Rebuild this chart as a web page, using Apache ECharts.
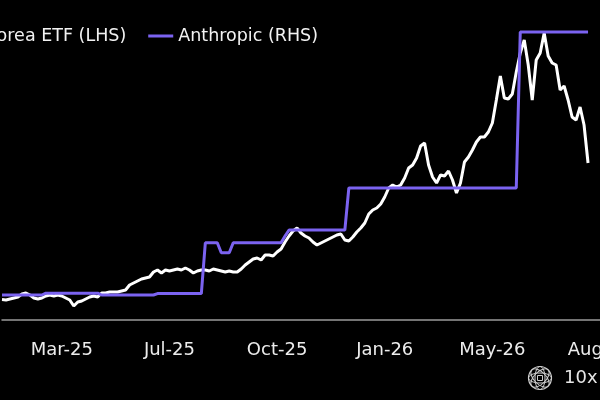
<!DOCTYPE html>
<html>
<head>
<meta charset="utf-8">
<script src="https://cdn.jsdelivr.net/npm/echarts@6/dist/echarts.min.js"></script>
<style>
html, body { margin: 0; padding: 0; background: #000; }
#chart { width: 600px; height: 400px; }
</style>
</head>
<body>
<div id="chart"></div>
<script>
// tick labels sit on fixed category positions
const tickLabels = ['Mar-25', 'Jul-25', 'Oct-25', 'Jan-26', 'May-26', 'Aug-26']
const tickIndex = [15, 42, 69, 96, 123, 150]
const categoryCount = 151

// Korea ETF (LHS)
const koreaEtf = [
    55.1, 55.0, 55.25, 55.5, 55.75, 56.5, 56.75, 56.25, 55.5, 55.25,
    55.5, 56.0, 56.25, 56.0, 56.25, 56.0, 55.5, 55.0, 53.5, 54.5,
    54.75, 55.25, 55.75, 56.0, 55.75, 56.75, 56.75, 57.0, 57.0, 57.0,
    57.25, 57.5, 58.75, 59.25, 59.75, 60.25, 60.5, 60.75, 62.0, 62.5,
    61.75, 62.5, 62.25, 62.5, 62.75, 62.5, 63.0, 62.5, 61.75, 62.25,
    62.5, 62.5, 62.25, 62.75, 62.5, 62.25, 62.0, 62.25, 62.0, 62.0,
    62.75, 63.75, 64.5, 65.25, 65.5, 65.0, 66.25, 66.25, 66.0, 67.0,
    67.75, 69.5, 71.0, 72.25, 73.0, 71.75, 71.0, 70.5, 69.5, 68.75,
    69.25, 69.75, 70.25, 70.75, 71.25, 71.5, 70.0, 69.75, 70.75, 72.0,
    73.0, 74.25, 76.5, 77.5, 78.0, 79.0, 80.75, 83.0, 83.75, 83.25,
    83.75, 85.5, 88.0, 88.75, 90.5, 93.5, 94.25, 88.75, 85.75, 84.25,
    86.25, 86.0, 87.25, 85.0, 81.75, 84.25, 89.5, 90.75, 92.5, 94.5,
    95.75, 95.75, 97.0, 99.25, 105.0, 111.0, 105.5, 105.25, 106.5, 112.0,
    116.75, 120.0, 113.75, 105.0, 115.0, 116.75, 121.75, 116.0, 114.25, 113.75,
    107.5, 108.5, 105.0, 100.75, 100.0, 103.25, 98.75, 89.25
]

// Anthropic valuation, $bn (RHS)
const anthropic = [
    62.5, 62.5, 62.5, 62.5, 62.5, 62.5, 62.5, 62.5, 62.5, 62.5,
    62.5, 67, 67, 67, 67, 67, 67, 67, 67, 67,
    67, 67, 67, 67, 67, 62.5, 62.5, 62.5, 62.5, 62.5,
    62.5, 62.5, 62.5, 62.5, 62.5, 62.5, 62.5, 62.5, 62.5, 66,
    66, 66, 66, 66, 66, 66, 66, 66, 66, 66,
    66, 193, 193, 193, 193, 168, 168, 168, 193, 193,
    193, 193, 193, 193, 193, 193, 193, 193, 193, 193,
    193, 210, 225, 225, 225, 225, 225, 225, 225, 225,
    225, 225, 225, 225, 225, 225, 225, 330, 330, 330,
    330, 330, 330, 330, 330, 330, 330, 330, 330, 330,
    330, 330, 330, 330, 330, 330, 330, 330, 330, 330,
    330, 330, 330, 330, 330, 330, 330, 330, 330, 330,
    330, 330, 330, 330, 330, 330, 330, 330, 330, 330,
    720, 720, 720, 720, 720, 720, 720, 720, 720, 720,
    720, 720, 720, 720, 720, 720, 720, 720
]

const categories = []
for (let i = 0; i < categoryCount; i++) categories.push(i)

const font = '"DejaVu Sans", sans-serif'
const purple = '#7b63f0'

const chart = echarts.init(document.getElementById('chart'))

chart.setOption({
    backgroundColor: '#000',
    animation: false,
    legend: {
        left: -49,
        top: 22,
        icon: 'rect',
        itemWidth: 25,
        itemHeight: 3,
        itemGap: 22,
        textStyle: { color: '#f2f2f2', fontSize: 17.5, fontFamily: font },
        data: ['Korea ETF (LHS)', 'Anthropic (RHS)']
    },
    grid: {
        left: 2,
        right: 0,
        top: 20,
        bottom: 80,
        containLabel: false,
        outerBoundsMode: 'none'
    },
    xAxis: {
        type: 'category',
        boundaryGap: false,
        data: categories,
        axisLine: { lineStyle: { color: '#9a9a9a', width: 1.5 } },
        axisTick: { show: false },
        splitLine: { show: false },
        axisLabel: {
            interval: (idx) => tickIndex.includes(idx),
            formatter: (val, idx) => tickLabels[tickIndex.indexOf(idx)] || '',
            color: '#ececec',
            fontSize: 18,
            fontFamily: font,
            margin: 21,
            hideOverlap: false
        }
    },
    yAxis: [
        { type: 'value', min: 50, max: 125, show: false },
        { type: 'value', min: 0, max: 750, show: false }
    ],
    series: [
        {
            name: 'Korea ETF (LHS)',
            type: 'line',
            yAxisIndex: 0,
            data: koreaEtf,
            showSymbol: false,
            color: '#ffffff',
            lineStyle: { width: 3, color: '#ffffff' }
        },
        {
            name: 'Anthropic (RHS)',
            type: 'line',
            yAxisIndex: 1,
            data: anthropic,
            showSymbol: false,
            color: purple,
            lineStyle: { width: 3, color: purple }
        }
    ],
    graphic: [
        {
            type: 'group',
            x: 540,
            y: 378,
            children: [
                { type: 'circle', shape: { cx: 0, cy: 0, r: 11.5 }, style: { fill: 'none', stroke: '#cfcfcf', lineWidth: 1.2 } },
                { type: 'ellipse', shape: { cx: 0, cy: 0, rx: 11.5, ry: 5 }, style: { fill: 'none', stroke: '#cfcfcf', lineWidth: 1 } },
                { type: 'ellipse', shape: { cx: 0, cy: 0, rx: 5, ry: 11.5 }, style: { fill: 'none', stroke: '#cfcfcf', lineWidth: 1 } },
                { type: 'ellipse', rotation: Math.PI / 4, shape: { cx: 0, cy: 0, rx: 11.5, ry: 6 }, style: { fill: 'none', stroke: '#cfcfcf', lineWidth: 1 } },
                { type: 'ellipse', rotation: -Math.PI / 4, shape: { cx: 0, cy: 0, rx: 11.5, ry: 6 }, style: { fill: 'none', stroke: '#cfcfcf', lineWidth: 1 } },
                { type: 'rect', shape: { x: -2.5, y: -2.5, width: 5, height: 5 }, style: { fill: 'none', stroke: '#cfcfcf', lineWidth: 1 } }
            ]
        },
        {
            type: 'text',
            x: 564,
            y: 378,
            style: {
                text: '10x Research',
                fill: '#e6e6e6',
                fontSize: 18,
                fontFamily: font,
                verticalAlign: 'middle'
            }
        }
    ]
})
</script>
</body>
</html>
